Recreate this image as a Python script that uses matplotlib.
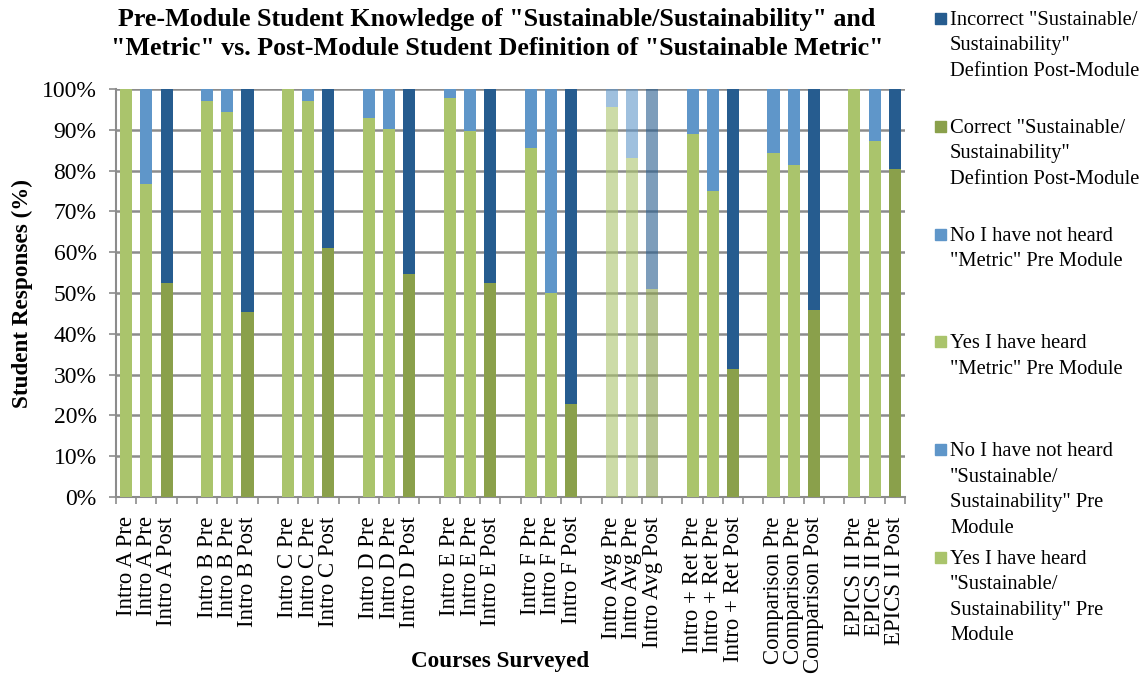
import numpy as np
import matplotlib
matplotlib.use("Agg")
import matplotlib.pyplot as plt
from matplotlib.patches import Rectangle

plt.rcParams['font.family'] = ['Liberation Serif', 'DejaVu Serif']

# course groups, three bars each (Pre sustainable, Pre metric, Post definition)
groups = ["Intro A", "Intro B", "Intro C", "Intro D", "Intro E", "Intro F",
          "Intro Avg", "Intro + Ret", "Comparison", "EPICS II"]
sust_yes = [100.0, 97.1, 100.0, 93.0, 97.7, 85.5, 95.7, 89.0, 84.4, 100.0]
sust_no = [0.0, 2.9, 0.0, 7.0, 2.3, 14.5, 4.3, 11.0, 15.6, 0.0]
metric_yes = [76.8, 94.3, 97.1, 90.1, 89.6, 50.0, 83.0, 75.0, 81.4, 87.2]
metric_no = [23.2, 5.7, 2.9, 9.9, 10.4, 50.0, 17.0, 25.0, 18.6, 12.8]
post_correct = [52.4, 45.3, 61.0, 54.7, 52.4, 22.7, 51.0, 31.3, 45.9, 80.3]
post_incorrect = [47.6, 54.7, 39.0, 45.3, 47.6, 77.3, 49.0, 68.7, 54.1, 19.7]

c_yes = '#aac46c'
c_no = '#5f96c9'
c_cor = '#8aa04b'
c_inc = '#265c8f'
faded = "Intro Avg"  # drawn lighter in the original

fig = plt.figure(figsize=(11.48, 6.76), dpi=100)
ax = fig.add_axes([116/1148, 1-497/676, (905-116)/1148, (497-89)/676])

pos = np.arange(len(groups)) * 4
w = 0.6
for i, g in enumerate(groups):
    a = 0.6 if g == faded else 1.0
    p = pos[i]
    ax.bar(p, sust_yes[i], w, color=c_yes, alpha=a, zorder=3)
    ax.bar(p, sust_no[i], w, bottom=sust_yes[i], color=c_no, alpha=a, zorder=3)
    ax.bar(p+1, metric_yes[i], w, color=c_yes, alpha=a, zorder=3)
    ax.bar(p+1, metric_no[i], w, bottom=metric_yes[i], color=c_no, alpha=a, zorder=3)
    ax.bar(p+2, post_correct[i], w, color=c_cor, alpha=a, zorder=3)
    ax.bar(p+2, post_incorrect[i], w, bottom=post_correct[i], color=c_inc, alpha=a, zorder=3)

ticks = np.concatenate([pos, pos+1, pos+2])
labels = [g + " Pre" for g in groups] + [g + " Pre" for g in groups] + [g + " Post" for g in groups]
order = np.argsort(ticks)
ax.set_xticks(ticks[order])
ax.set_xticklabels([labels[k] for k in order], rotation=90, fontsize=16.4, va='top')
ax.set_xticks(np.arange(-0.5, pos[-1]+3, 1), minor=True)
ax.tick_params(axis='x', which='major', length=0, pad=14)
ax.tick_params(axis='x', which='minor', length=5, width=1.2, color='#8c8c8c', direction='out')
ax.set_xlim(-0.5, pos[-1]+2.5)

ax.set_ylim(0, 100)
ax.set_yticks(np.arange(0, 101, 10))
ax.set_yticklabels([f"{v}%" for v in range(0, 101, 10)], fontsize=17)
ax.tick_params(axis='y', length=5, width=1.2, color='#8c8c8c', direction='out', pad=9)
ax.grid(axis='y', color='#8c8c8c', lw=1.8, zorder=0)
for s in ['top', 'right']:
    ax.spines[s].set_visible(False)
for s in ['left', 'bottom']:
    ax.spines[s].set_color('#8c8c8c')
    ax.spines[s].set_linewidth(1.5)

ax.set_ylabel("Student Responses (%)", fontsize=16.7, fontweight='bold')
ax.yaxis.set_label_coords((33-116)/789, 0.5)
fig.text(500/1148, 1-662/676, "Courses Surveyed", fontsize=16.7, fontweight='bold',
         ha='center', va='center')
fig.text(497/1148, 1-34/676,
         'Pre-Module Student Knowledge of "Sustainable/Sustainability" and\n'
         '"Metric" vs. Post-Module Student Definition of "Sustainable Metric"',
         fontsize=18.7, fontweight='bold', ha='center', va='center', linespacing=1.35)

# legend drawn by hand so entries sit at even steps like the original
leg_names = ['Incorrect "Sustainable/\nSustainability"\nDefintion Post-Module',
             'Correct "Sustainable/\nSustainability"\nDefintion Post-Module',
             'No I have not heard\n"Metric" Pre Module',
             'Yes I have heard\n"Metric" Pre Module',
             'No I have not heard\n"Sustainable/\nSustainability" Pre\nModule',
             'Yes I have heard\n"Sustainable/\nSustainability" Pre\nModule']
leg_colors = [c_inc, c_cor, c_no, c_yes, c_no, c_yes]
for k, (name, col) in enumerate(zip(leg_names, leg_colors)):
    ytop = 11 + k*107.8
    fig.add_artist(Rectangle((935/1148, 1-(ytop+13)/676), 11/1148, 11/676,
                             transform=fig.transFigure, color=col))
    fig.text(950/1148, 1-ytop/676, name, fontsize=14.8, va='top', ha='left',
             linespacing=1.46)

fig.savefig("out.png", dpi=100)
